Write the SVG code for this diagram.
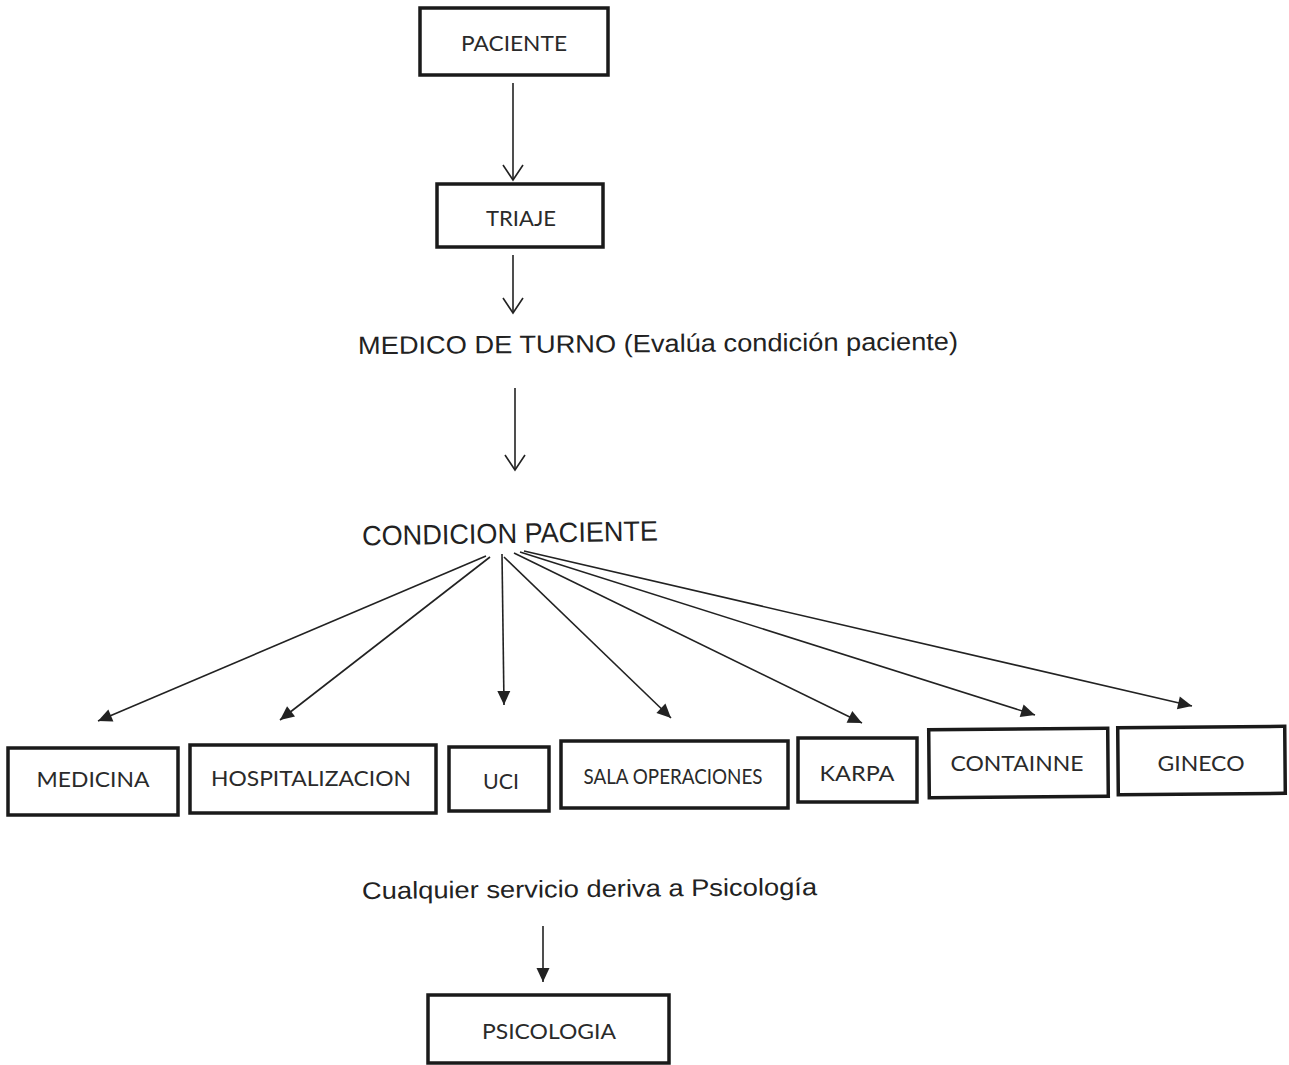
<svg xmlns="http://www.w3.org/2000/svg" width="1289" height="1065" viewBox="0 0 1289 1065">
<style>
.box{fill:#fff;stroke:#1a1a1a;stroke-width:3.5}
.bl{font-family:Lato,"Open Sans","Liberation Sans",sans-serif;font-size:22px;fill:#2a2a2a;text-anchor:middle;dominant-baseline:central}
.ar{font-family:"Liberation Sans",Arial,sans-serif;fill:#222}
.c{stroke:#222;stroke-width:1.6;fill:none}
</style>
<defs>
<marker id="open" markerUnits="userSpaceOnUse" markerWidth="20" markerHeight="24" viewBox="-17 -12 19 24" refX="0" refY="0" orient="auto">
<path d="M-15,-10 L0,0 L-15,10" fill="none" stroke="#222" stroke-width="1.6"/>
</marker>
<marker id="fill" markerUnits="userSpaceOnUse" markerWidth="18" markerHeight="16" viewBox="-16 -8 17 16" refX="0" refY="0" orient="auto">
<path d="M-14,-6.5 L0,0 L-14,6.5 Z" fill="#222"/>
</marker>
</defs>
<rect width="1289" height="1065" fill="#fff"/>
<g id="connectors">
<line class="c" x1="513" y1="83" x2="513" y2="180" marker-end="url(#open)"/>
<line class="c" x1="513" y1="255" x2="513" y2="313" marker-end="url(#open)"/>
<line class="c" x1="515" y1="388" x2="515" y2="470" marker-end="url(#open)"/>
<line class="c" x1="486" y1="556" x2="98" y2="721" marker-end="url(#fill)"/>
<line class="c" x1="490" y1="557" x2="280" y2="720" marker-end="url(#fill)"/>
<line class="c" x1="502" y1="554" x2="504" y2="705" marker-end="url(#fill)"/>
<line class="c" x1="504" y1="557" x2="671" y2="718" marker-end="url(#fill)"/>
<line class="c" x1="514" y1="553" x2="862" y2="723" marker-end="url(#fill)"/>
<line class="c" x1="520" y1="552" x2="1035" y2="715" marker-end="url(#fill)"/>
<line class="c" x1="524" y1="551" x2="1192" y2="706" marker-end="url(#fill)"/>
<line class="c" x1="543" y1="926" x2="543" y2="982" marker-end="url(#fill)"/>
</g>
<g id="paciente"><rect class="box" x="420" y="8" width="188" height="67"/><text class="bl" x="514" y="42" textLength="106" lengthAdjust="spacingAndGlyphs">PACIENTE</text></g>
<g id="triaje"><rect class="box" x="437" y="184" width="166" height="63"/><text class="bl" x="521" y="217" textLength="70" lengthAdjust="spacingAndGlyphs">TRIAJE</text></g>
<g id="medico"><text class="ar" x="358" y="352" font-size="25" textLength="600" lengthAdjust="spacingAndGlyphs" transform="rotate(-0.4 658 342)">MEDICO DE TURNO (Evalúa condición paciente)</text></g>
<g id="condicion"><text class="ar" x="362" y="543" font-size="28" textLength="296" lengthAdjust="spacingAndGlyphs" transform="rotate(-1 510 532)">CONDICION PACIENTE</text></g>
<g id="medicina"><rect class="box" x="8" y="748" width="170" height="67"/><text class="bl" x="93" y="778" textLength="113" lengthAdjust="spacingAndGlyphs">MEDICINA</text></g>
<g id="hospitalizacion"><rect class="box" x="190" y="745" width="246" height="68"/><text class="bl" x="311" y="777" textLength="200" lengthAdjust="spacingAndGlyphs">HOSPITALIZACION</text></g>
<g id="uci"><rect class="box" x="449" y="747" width="100" height="64"/><text class="bl" x="501" y="780" textLength="36" lengthAdjust="spacingAndGlyphs">UCI</text></g>
<g id="sala"><rect class="box" x="561" y="741" width="227" height="67"/><text class="bl" x="673" y="775" font-size="17" textLength="179" lengthAdjust="spacingAndGlyphs">SALA OPERACIONES</text></g>
<g id="karpa"><rect class="box" x="798" y="738" width="119" height="64"/><text class="bl" x="857" y="772" textLength="75" lengthAdjust="spacingAndGlyphs">KARPA</text></g>
<g id="containne"><rect class="box" x="929" y="729" width="179" height="68" transform="rotate(-0.5 1018 763)"/><text class="bl" x="1017" y="762" textLength="133" lengthAdjust="spacingAndGlyphs">CONTAINNE</text></g>
<g id="gineco"><rect class="box" x="1118" y="727" width="167" height="67" transform="rotate(-0.5 1201 760)"/><text class="bl" x="1201" y="762" textLength="87" lengthAdjust="spacingAndGlyphs">GINECO</text></g>
<g id="cualquier"><text class="ar" x="362" y="897" font-size="24" textLength="455" lengthAdjust="spacingAndGlyphs" transform="rotate(-0.5 590 888)">Cualquier servicio deriva a Psicología</text></g>
<g id="psicologia"><rect class="box" x="428" y="995" width="241" height="68"/><text class="bl" x="549" y="1030" textLength="134" lengthAdjust="spacingAndGlyphs">PSICOLOGIA</text></g>
</svg>
